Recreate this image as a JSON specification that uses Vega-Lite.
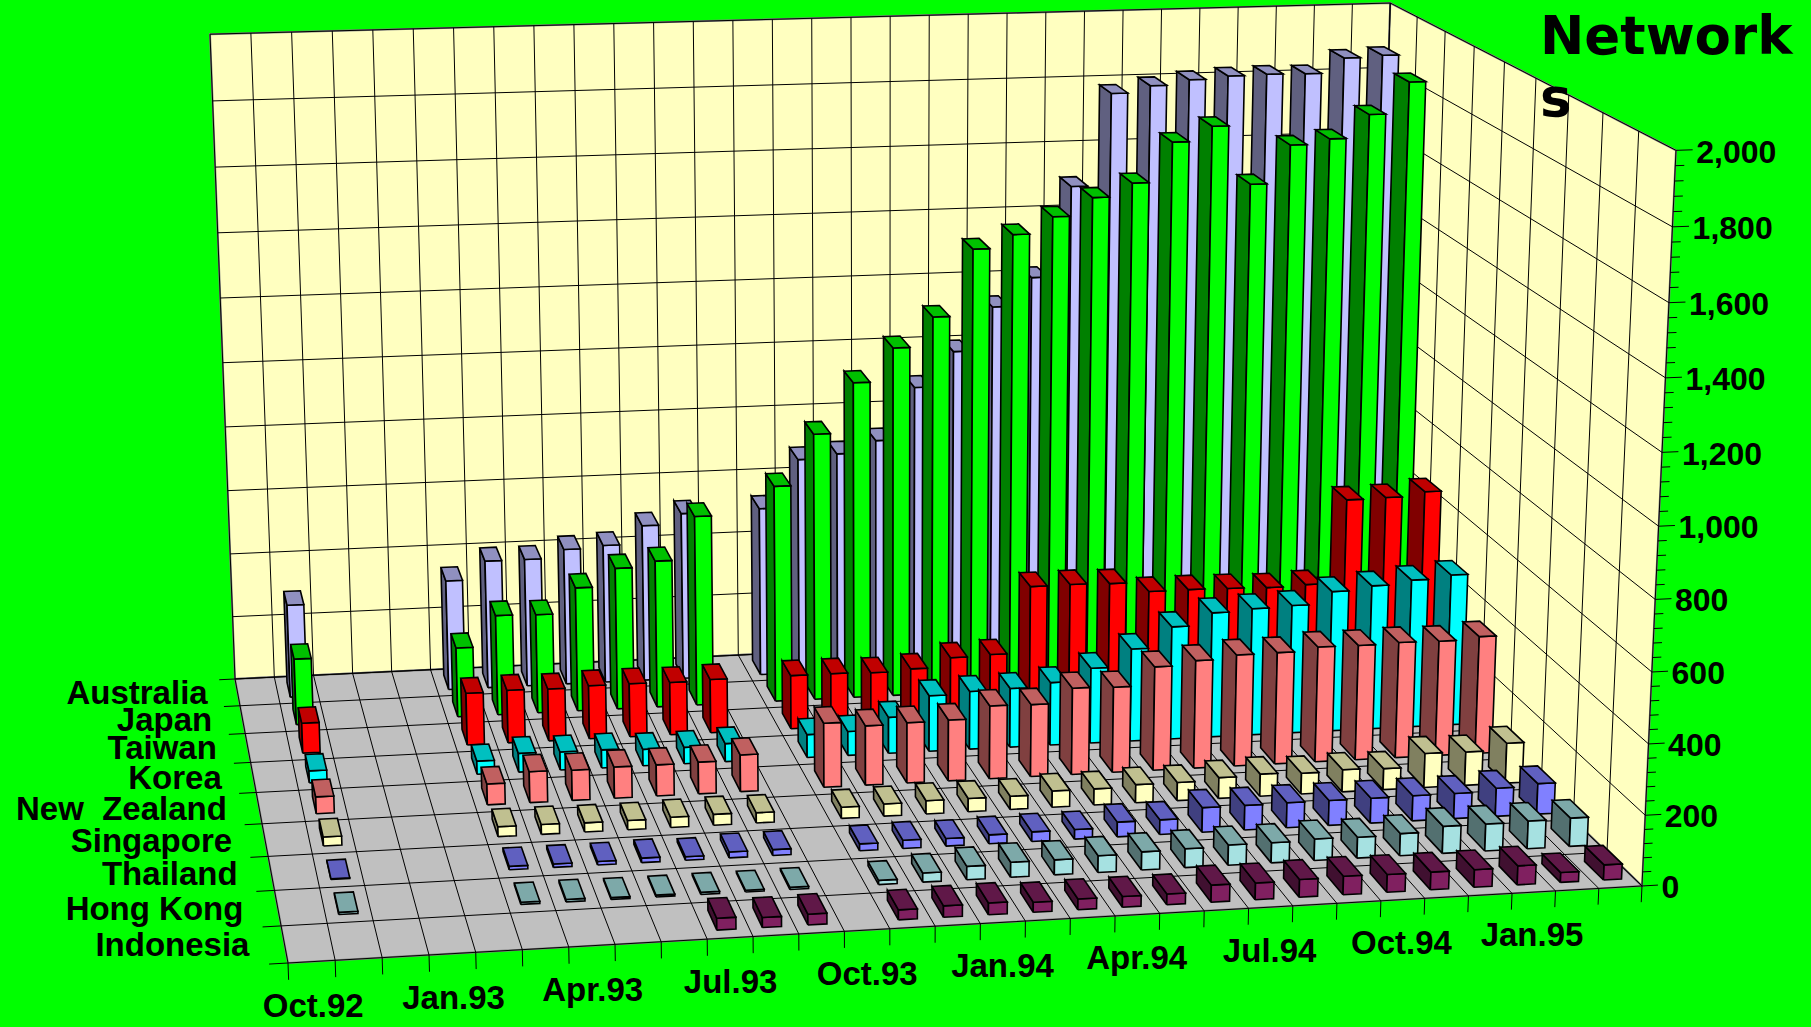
{"$schema":"https://vega.github.io/schema/vega-lite/v6.json","width":1811,"height":1027,"autosize":"none","padding":0,"background":"#00FF00",
"title":{"text":["Network","s"],"frame":"group","anchor":"start","align":"left","baseline":"alphabetic","font":"DejaVu Sans","fontWeight":"bold","fontSize":53,"lineHeight":62,"color":"#000000","dx":1540,"dy":170,"offset":0},
"config":{"view":{"stroke":null},"axis":{"disable":true}},
"resolve":{"scale":{"fill":"independent"}},
"params":[{"name":"months","value":["Oct.92","Nov.92","Dec.92","Jan.93","Feb.93","Mar.93","Apr.93","May.93","Jun.93","Jul.93","Aug.93","Sep.93","Oct.93","Nov.93","Dec.93","Jan.94","Feb.94","Mar.94","Apr.94","May.94","Jun.94","Jul.94","Aug.94","Sep.94","Oct.94","Nov.94","Dec.94","Jan.95","Feb.95","Mar.95"]},
{"name":"countries","value":["Indonesia","Hong Kong","Thailand","Singapore","New  Zealand","Korea","Taiwan","Japan","Australia"]}],
"datasets":{
"panels":[{"panel":"back","i":0,"m":0,"r":9,"v":0},{"panel":"back","i":1,"m":30,"r":9,"v":0},{"panel":"back","i":2,"m":30,"r":9,"v":2000},{"panel":"back","i":3,"m":0,"r":9,"v":2000},{"panel":"back","i":4,"m":0,"r":9,"v":0},
{"panel":"right","i":0,"m":30,"r":9,"v":0},{"panel":"right","i":1,"m":30,"r":0,"v":0},{"panel":"right","i":2,"m":30,"r":0,"v":2000},{"panel":"right","i":3,"m":30,"r":9,"v":2000},{"panel":"right","i":4,"m":30,"r":9,"v":0},
{"panel":"floor","i":0,"m":0,"r":0,"v":0},{"panel":"floor","i":1,"m":30,"r":0,"v":0},{"panel":"floor","i":2,"m":30,"r":9,"v":0},{"panel":"floor","i":3,"m":0,"r":9,"v":0},{"panel":"floor","i":4,"m":0,"r":0,"v":0}],
"grid":[{"family":"month","k":[0,1,2,3,4,5,6,7,8,9,10,11,12,13,14,15,16,17,18,19,20,21,22,23,24,25,26,27,28,29,30]},{"family":"row","k":[0,1,2,3,4,5,6,7,8,9]},{"family":"major","k":[0,200,400,600,800,1000,1200,1400,1600,1800,2000]},{"family":"minor","k":[40,80,120,160,240,280,320,360,440,480,520,560,640,680,720,760,840,880,920,960,1040,1080,1120,1160,1240,1280,1320,1360,1440,1480,1520,1560,1640,1680,1720,1760,1840,1880,1920,1960]}],
"monthLabels":[{"label":"Oct.92"},{"label":"Jan.93"},{"label":"Apr.93"},{"label":"Jul.93"},{"label":"Oct.93"},{"label":"Jan.94"},{"label":"Apr.94"},{"label":"Jul.94"},{"label":"Oct.94"},{"label":"Jan.95"}],
"rowLabels":[{"label":"Australia"},{"label":"Japan"},{"label":"Taiwan"},{"label":"Korea"},{"label":"New  Zealand"},{"label":"Singapore"},{"label":"Thailand"},{"label":"Hong Kong"},{"label":"Indonesia"}],
"valueLabels":[{"v":0},{"v":200},{"v":400},{"v":600},{"v":800},{"v":1000},{"v":1200},{"v":1400},{"v":1600},{"v":1800},{"v":2000}],
"bars":[
{"month":"Nov.92","country":"Australia","value":291},{"month":"Mar.93","country":"Australia","value":345},{"month":"Apr.93","country":"Australia","value":402},{"month":"May.93","country":"Australia","value":402},{"month":"Jun.93","country":"Australia","value":428},{"month":"Jul.93","country":"Australia","value":435},{"month":"Aug.93","country":"Australia","value":492},{"month":"Sep.93","country":"Australia","value":525},{"month":"Nov.93","country":"Australia","value":530},{"month":"Dec.93","country":"Australia","value":680},{"month":"Jan.94","country":"Australia","value":693},{"month":"Feb.94","country":"Australia","value":730},{"month":"Mar.94","country":"Australia","value":892},{"month":"Apr.94","country":"Australia","value":1000},{"month":"May.94","country":"Australia","value":1135},{"month":"Jun.94","country":"Australia","value":1222},{"month":"Jul.94","country":"Australia","value":1500},{"month":"Aug.94","country":"Australia","value":1782},{"month":"Sep.94","country":"Australia","value":1802},{"month":"Oct.94","country":"Australia","value":1817},{"month":"Nov.94","country":"Australia","value":1825},{"month":"Dec.94","country":"Australia","value":1827},{"month":"Jan.95","country":"Australia","value":1825},{"month":"Feb.95","country":"Australia","value":1870},{"month":"Mar.95","country":"Australia","value":1875},
{"month":"Nov.92","country":"Japan","value":204},{"month":"Mar.93","country":"Japan","value":215},{"month":"Apr.93","country":"Japan","value":310},{"month":"May.93","country":"Japan","value":307},{"month":"Jun.93","country":"Japan","value":385},{"month":"Jul.93","country":"Japan","value":440},{"month":"Aug.93","country":"Japan","value":457},{"month":"Sep.93","country":"Japan","value":590},{"month":"Nov.93","country":"Japan","value":673},{"month":"Dec.93","country":"Japan","value":829},{"month":"Jan.94","country":"Japan","value":982},{"month":"Feb.94","country":"Japan","value":1084},{"month":"Mar.94","country":"Japan","value":1174},{"month":"Apr.94","country":"Japan","value":1376},{"month":"May.94","country":"Japan","value":1416},{"month":"Jun.94","country":"Japan","value":1466},{"month":"Jul.94","country":"Japan","value":1520},{"month":"Aug.94","country":"Japan","value":1560},{"month":"Sep.94","country":"Japan","value":1680},{"month":"Oct.94","country":"Japan","value":1724},{"month":"Nov.94","country":"Japan","value":1545},{"month":"Dec.94","country":"Japan","value":1660},{"month":"Jan.95","country":"Japan","value":1675},{"month":"Feb.95","country":"Japan","value":1745},{"month":"Mar.95","country":"Japan","value":1840},
{"month":"Nov.92","country":"Taiwan","value":92},{"month":"Mar.93","country":"Taiwan","value":159},{"month":"Apr.93","country":"Taiwan","value":162},{"month":"May.93","country":"Taiwan","value":160},{"month":"Jun.93","country":"Taiwan","value":164},{"month":"Jul.93","country":"Taiwan","value":164},{"month":"Aug.93","country":"Taiwan","value":162},{"month":"Sep.93","country":"Taiwan","value":165},{"month":"Nov.93","country":"Taiwan","value":165},{"month":"Dec.93","country":"Taiwan","value":165},{"month":"Jan.94","country":"Taiwan","value":162},{"month":"Feb.94","country":"Taiwan","value":168},{"month":"Mar.94","country":"Taiwan","value":197},{"month":"Apr.94","country":"Taiwan","value":201},{"month":"May.94","country":"Taiwan","value":406},{"month":"Jun.94","country":"Taiwan","value":407},{"month":"Jul.94","country":"Taiwan","value":404},{"month":"Aug.94","country":"Taiwan","value":374},{"month":"Sep.94","country":"Taiwan","value":374},{"month":"Oct.94","country":"Taiwan","value":372},{"month":"Nov.94","country":"Taiwan","value":369},{"month":"Dec.94","country":"Taiwan","value":373},{"month":"Jan.95","country":"Taiwan","value":631},{"month":"Feb.95","country":"Taiwan","value":633},{"month":"Mar.95","country":"Taiwan","value":646},
{"month":"Nov.92","country":"Korea","value":36},{"month":"Mar.93","country":"Korea","value":40},{"month":"Apr.93","country":"Korea","value":57},{"month":"May.93","country":"Korea","value":55},{"month":"Jun.93","country":"Korea","value":55},{"month":"Jul.93","country":"Korea","value":50},{"month":"Aug.93","country":"Korea","value":50},{"month":"Sep.93","country":"Korea","value":55},{"month":"Nov.93","country":"Korea","value":70},{"month":"Dec.93","country":"Korea","value":73},{"month":"Jan.94","country":"Korea","value":110},{"month":"Feb.94","country":"Korea","value":170},{"month":"Mar.94","country":"Korea","value":177},{"month":"Apr.94","country":"Korea","value":180},{"month":"May.94","country":"Korea","value":192},{"month":"Jun.94","country":"Korea","value":230},{"month":"Jul.94","country":"Korea","value":283},{"month":"Aug.94","country":"Korea","value":345},{"month":"Sep.94","country":"Korea","value":382},{"month":"Oct.94","country":"Korea","value":389},{"month":"Nov.94","country":"Korea","value":393},{"month":"Dec.94","country":"Korea","value":430},{"month":"Jan.95","country":"Korea","value":442},{"month":"Feb.95","country":"Korea","value":454},{"month":"Mar.95","country":"Korea","value":464},
{"month":"Nov.92","country":"New  Zealand","value":50},{"month":"Mar.93","country":"New  Zealand","value":62},{"month":"Apr.93","country":"New  Zealand","value":92},{"month":"May.93","country":"New  Zealand","value":90},{"month":"Jun.93","country":"New  Zealand","value":93},{"month":"Jul.93","country":"New  Zealand","value":93},{"month":"Aug.93","country":"New  Zealand","value":95},{"month":"Sep.93","country":"New  Zealand","value":110},{"month":"Nov.93","country":"New  Zealand","value":192},{"month":"Dec.93","country":"New  Zealand","value":178},{"month":"Jan.94","country":"New  Zealand","value":181},{"month":"Feb.94","country":"New  Zealand","value":183},{"month":"Mar.94","country":"New  Zealand","value":219},{"month":"Apr.94","country":"New  Zealand","value":217},{"month":"May.94","country":"New  Zealand","value":260},{"month":"Jun.94","country":"New  Zealand","value":257},{"month":"Jul.94","country":"New  Zealand","value":312},{"month":"Aug.94","country":"New  Zealand","value":325},{"month":"Sep.94","country":"New  Zealand","value":336},{"month":"Oct.94","country":"New  Zealand","value":337},{"month":"Nov.94","country":"New  Zealand","value":348},{"month":"Dec.94","country":"New  Zealand","value":347},{"month":"Jan.95","country":"New  Zealand","value":350},{"month":"Feb.95","country":"New  Zealand","value":348},{"month":"Mar.95","country":"New  Zealand","value":356},
{"month":"Nov.92","country":"Singapore","value":26},{"month":"Mar.93","country":"Singapore","value":29},{"month":"Apr.93","country":"Singapore","value":29},{"month":"May.93","country":"Singapore","value":27},{"month":"Jun.93","country":"Singapore","value":27},{"month":"Jul.93","country":"Singapore","value":30},{"month":"Aug.93","country":"Singapore","value":32},{"month":"Sep.93","country":"Singapore","value":30},{"month":"Nov.93","country":"Singapore","value":33},{"month":"Dec.93","country":"Singapore","value":36},{"month":"Jan.94","country":"Singapore","value":39},{"month":"Feb.94","country":"Singapore","value":39},{"month":"Mar.94","country":"Singapore","value":39},{"month":"Apr.94","country":"Singapore","value":48},{"month":"May.94","country":"Singapore","value":48},{"month":"Jun.94","country":"Singapore","value":54},{"month":"Jul.94","country":"Singapore","value":54},{"month":"Aug.94","country":"Singapore","value":62},{"month":"Sep.94","country":"Singapore","value":66},{"month":"Oct.94","country":"Singapore","value":62},{"month":"Nov.94","country":"Singapore","value":66},{"month":"Dec.94","country":"Singapore","value":63},{"month":"Jan.95","country":"Singapore","value":102},{"month":"Feb.95","country":"Singapore","value":100},{"month":"Mar.95","country":"Singapore","value":120},
{"month":"Nov.92","country":"Thailand","value":2},{"month":"Mar.93","country":"Thailand","value":10},{"month":"Apr.93","country":"Thailand","value":10},{"month":"May.93","country":"Thailand","value":10},{"month":"Jun.93","country":"Thailand","value":13},{"month":"Jul.93","country":"Thailand","value":10},{"month":"Aug.93","country":"Thailand","value":17},{"month":"Sep.93","country":"Thailand","value":17},{"month":"Nov.93","country":"Thailand","value":20},{"month":"Dec.93","country":"Thailand","value":24},{"month":"Jan.94","country":"Thailand","value":22},{"month":"Feb.94","country":"Thailand","value":26},{"month":"Mar.94","country":"Thailand","value":28},{"month":"Apr.94","country":"Thailand","value":28},{"month":"May.94","country":"Thailand","value":43},{"month":"Jun.94","country":"Thailand","value":43},{"month":"Jul.94","country":"Thailand","value":72},{"month":"Aug.94","country":"Thailand","value":72},{"month":"Sep.94","country":"Thailand","value":73},{"month":"Oct.94","country":"Thailand","value":73},{"month":"Nov.94","country":"Thailand","value":73},{"month":"Dec.94","country":"Thailand","value":74},{"month":"Jan.95","country":"Thailand","value":74},{"month":"Feb.95","country":"Thailand","value":83},{"month":"Mar.95","country":"Thailand","value":90},
{"month":"Nov.92","country":"Hong Kong","value":6},{"month":"Mar.93","country":"Hong Kong","value":6},{"month":"Apr.93","country":"Hong Kong","value":7},{"month":"May.93","country":"Hong Kong","value":5},{"month":"Jun.93","country":"Hong Kong","value":5},{"month":"Jul.93","country":"Hong Kong","value":6},{"month":"Aug.93","country":"Hong Kong","value":5},{"month":"Sep.93","country":"Hong Kong","value":6},{"month":"Nov.93","country":"Hong Kong","value":12},{"month":"Dec.93","country":"Hong Kong","value":26},{"month":"Jan.94","country":"Hong Kong","value":38},{"month":"Feb.94","country":"Hong Kong","value":43},{"month":"Mar.94","country":"Hong Kong","value":43},{"month":"Apr.94","country":"Hong Kong","value":48},{"month":"May.94","country":"Hong Kong","value":52},{"month":"Jun.94","country":"Hong Kong","value":54},{"month":"Jul.94","country":"Hong Kong","value":58},{"month":"Aug.94","country":"Hong Kong","value":58},{"month":"Sep.94","country":"Hong Kong","value":62},{"month":"Oct.94","country":"Hong Kong","value":60},{"month":"Nov.94","country":"Hong Kong","value":64},{"month":"Dec.94","country":"Hong Kong","value":78},{"month":"Jan.95","country":"Hong Kong","value":78},{"month":"Feb.95","country":"Hong Kong","value":80},{"month":"Mar.95","country":"Hong Kong","value":82},
{"month":"Jul.93","country":"Indonesia","value":33},{"month":"Aug.93","country":"Indonesia","value":28},{"month":"Sep.93","country":"Indonesia","value":30},{"month":"Nov.93","country":"Indonesia","value":28},{"month":"Dec.93","country":"Indonesia","value":32},{"month":"Jan.94","country":"Indonesia","value":33},{"month":"Feb.94","country":"Indonesia","value":28},{"month":"Mar.94","country":"Indonesia","value":30},{"month":"Apr.94","country":"Indonesia","value":30},{"month":"May.94","country":"Indonesia","value":30},{"month":"Jun.94","country":"Indonesia","value":48},{"month":"Jul.94","country":"Indonesia","value":47},{"month":"Aug.94","country":"Indonesia","value":50},{"month":"Sep.94","country":"Indonesia","value":52},{"month":"Oct.94","country":"Indonesia","value":50},{"month":"Nov.94","country":"Indonesia","value":50},{"month":"Dec.94","country":"Indonesia","value":50},{"month":"Jan.95","country":"Indonesia","value":54},{"month":"Feb.95","country":"Indonesia","value":28},{"month":"Mar.95","country":"Indonesia","value":43}
]},
"layer":[
{"data":{"name":"panels"},
"transform":[
{"calculate":"(288+1430.12*datum.m/30-5.56*datum.r/9-39.45*datum.v/2000)/(1+0.04636*datum.m/30+0.20186*datum.r/9-0.04477*datum.v/2000)","as":"sx"},
{"calculate":"(963-35.93*datum.m/30-146.94*datum.r/9-776.5*datum.v/2000)/(1+0.04636*datum.m/30+0.20186*datum.r/9-0.04477*datum.v/2000)","as":"sy"}],
"mark":{"type":"line","stroke":"#808080","strokeWidth":2,"strokeJoin":"miter"},
"encoding":{"x":{"field":"sx","type":"quantitative","scale":null,"axis":null},"y":{"field":"sy","type":"quantitative","scale":null,"axis":null},"order":{"field":"i","type":"ordinal"},"detail":{"field":"panel"},
"fill":{"field":"panel","type":"nominal","legend":null,"scale":{"domain":["back","right","floor"],"range":["#FFFFC0","#FFFFC0","#C0C0C0"]}}}},
{"data":{"name":"grid"},
"transform":[{"flatten":["k"]},
{"calculate":"datum.family=='month'?[[datum.k,0,0,datum.k,9,0],[datum.k,9,0,datum.k,9,2000],[datum.k,0,0,datum.k,0,-46]]:datum.family=='row'?[[0,datum.k,0,30,datum.k,0],[30,datum.k,0,30,datum.k,2000],[0,datum.k,0,-0.4,datum.k,0]]:datum.family=='major'?[[0,9,datum.k,30,9,datum.k],[30,9,datum.k,30,0,datum.k],[30,0,datum.k,30.37,0,datum.k]]:[[30,0,datum.k,30.2,0,datum.k]]","as":"seg"},
{"flatten":["seg"]},
{"calculate":"(288+1430.12*datum.seg[0]/30-5.56*datum.seg[1]/9-39.45*datum.seg[2]/2000)/(1+0.04636*datum.seg[0]/30+0.20186*datum.seg[1]/9-0.04477*datum.seg[2]/2000)","as":"sx"},
{"calculate":"(963-35.93*datum.seg[0]/30-146.94*datum.seg[1]/9-776.5*datum.seg[2]/2000)/(1+0.04636*datum.seg[0]/30+0.20186*datum.seg[1]/9-0.04477*datum.seg[2]/2000)","as":"sy"},
{"calculate":"(288+1430.12*datum.seg[3]/30-5.56*datum.seg[4]/9-39.45*datum.seg[5]/2000)/(1+0.04636*datum.seg[3]/30+0.20186*datum.seg[4]/9-0.04477*datum.seg[5]/2000)","as":"sx2"},
{"calculate":"(963-35.93*datum.seg[3]/30-146.94*datum.seg[4]/9-776.5*datum.seg[5]/2000)/(1+0.04636*datum.seg[3]/30+0.20186*datum.seg[4]/9-0.04477*datum.seg[5]/2000)","as":"sy2"}],
"mark":{"type":"rule","color":"#000000","strokeWidth":1},
"encoding":{"x":{"field":"sx","type":"quantitative","scale":null,"axis":null},"y":{"field":"sy","type":"quantitative","scale":null,"axis":null},"x2":{"field":"sx2"},"y2":{"field":"sy2"}}},
{"data":{"name":"bars"},
"transform":[
{"calculate":"indexof(months,datum.month)","as":"m"},
{"calculate":"indexof(countries,datum.country)","as":"r"},
{"calculate":"[{f:'left',q:[[0,0,0,0],[0,1,0,1],[0,1,1,2],[0,0,1,3],[0,0,0,4]]},{f:'front',q:[[0,0,0,0],[1,0,0,1],[1,0,1,2],[0,0,1,3],[0,0,0,4]]},{f:'top',q:[[0,0,1,0],[1,0,1,1],[1,1,1,2],[0,1,1,3],[0,0,1,4]]}]","as":"faces"},
{"flatten":["faces"]},
{"calculate":"datum.faces.f","as":"face"},
{"calculate":"datum.faces.q","as":"q"},
{"flatten":["q"]},
{"calculate":"(datum.m+0.29+datum.q[0]*0.42)/30","as":"U"},
{"calculate":"(datum.r+0.225+datum.q[1]*0.55)/9","as":"W"},
{"calculate":"datum.q[2]*datum.value/2000","as":"H"},
{"calculate":"datum.q[3]","as":"i"},
{"calculate":"datum.month+'|'+datum.country+'|'+datum.face","as":"key"},
{"calculate":"datum.country+'|'+datum.face","as":"tone"},
{"calculate":"(288+1430.12*datum.U-5.56*datum.W-39.45*datum.H)/(1+0.04636*datum.U+0.20186*datum.W-0.04477*datum.H)","as":"sx"},
{"calculate":"(963-35.93*datum.U-146.94*datum.W-776.5*datum.H)/(1+0.04636*datum.U+0.20186*datum.W-0.04477*datum.H)","as":"sy"}],
"mark":{"type":"line","stroke":"#000000","strokeWidth":1.6,"strokeJoin":"miter"},
"encoding":{"x":{"field":"sx","type":"quantitative","scale":null,"axis":null},"y":{"field":"sy","type":"quantitative","scale":null,"axis":null},"order":{"field":"i","type":"ordinal"},"detail":{"field":"key"},
"fill":{"field":"tone","type":"nominal","legend":null,"scale":{"domain":["Australia|front","Australia|top","Australia|left","Japan|front","Japan|top","Japan|left","Taiwan|front","Taiwan|top","Taiwan|left","Korea|front","Korea|top","Korea|left","New  Zealand|front","New  Zealand|top","New  Zealand|left","Singapore|front","Singapore|top","Singapore|left","Thailand|front","Thailand|top","Thailand|left","Hong Kong|front","Hong Kong|top","Hong Kong|left","Indonesia|front","Indonesia|top","Indonesia|left"],"range":["#C0C0FF","#9090C0","#606080","#00FF00","#00C000","#008000","#FF0000","#C00000","#800000","#00FFFF","#00C0C0","#008080","#FF8080","#C06060","#804040","#FFFFC0","#C0C090","#808060","#8080FF","#6060C0","#404080","#A6E1E1","#7DA9A9","#537070","#802060","#601848","#401030"]}}}},
{"data":{"name":"monthLabels"},
"transform":[{"calculate":"indexof(months,datum.label)+0.5","as":"m"},
{"calculate":"(288+1430.12*datum.m/30+39.45*0.0625)/(1+0.04636*datum.m/30+0.04477*0.0625)","as":"sx"},
{"calculate":"(963-35.93*datum.m/30+776.5*0.0625)/(1+0.04636*datum.m/30+0.04477*0.0625)","as":"sy"}],
"mark":{"type":"text","font":"Liberation Sans","fontWeight":"bold","fontSize":33,"color":"#000000","align":"center","baseline":"middle"},
"encoding":{"x":{"field":"sx","type":"quantitative","scale":null,"axis":null},"y":{"field":"sy","type":"quantitative","scale":null,"axis":null},"text":{"field":"label"}}},
{"data":{"name":"rowLabels"},
"transform":[{"calculate":"indexof(countries,datum.label)+0.5","as":"r"},
{"calculate":"(288-1430.12*0.025-5.56*datum.r/9)/(1-0.04636*0.025+0.20186*datum.r/9)","as":"sx"},
{"calculate":"(963+35.93*0.025-146.94*datum.r/9)/(1-0.04636*0.025+0.20186*datum.r/9)","as":"sy"},
{"calculate":"replace(datum.label,'  ',' \u00a0')","as":"shown"}],
"mark":{"type":"text","font":"Liberation Sans","fontWeight":"bold","fontSize":33,"color":"#000000","align":"right","baseline":"middle"},
"encoding":{"x":{"field":"sx","type":"quantitative","scale":null,"axis":null},"y":{"field":"sy","type":"quantitative","scale":null,"axis":null},"text":{"field":"shown"}}},
{"data":{"name":"valueLabels"},
"transform":[
{"calculate":"(288+1430.12*30.45/30-39.45*datum.v/2000)/(1+0.04636*30.45/30-0.04477*datum.v/2000)","as":"sx"},
{"calculate":"(963-35.93*30.45/30-776.5*datum.v/2000)/(1+0.04636*30.45/30-0.04477*datum.v/2000)","as":"sy"},
{"calculate":"format(datum.v,',')","as":"label"}],
"mark":{"type":"text","font":"Liberation Sans","fontWeight":"bold","fontSize":32,"color":"#000000","align":"left","baseline":"middle","dy":3},
"encoding":{"x":{"field":"sx","type":"quantitative","scale":null,"axis":null},"y":{"field":"sy","type":"quantitative","scale":null,"axis":null},"text":{"field":"label"}}}
]}
